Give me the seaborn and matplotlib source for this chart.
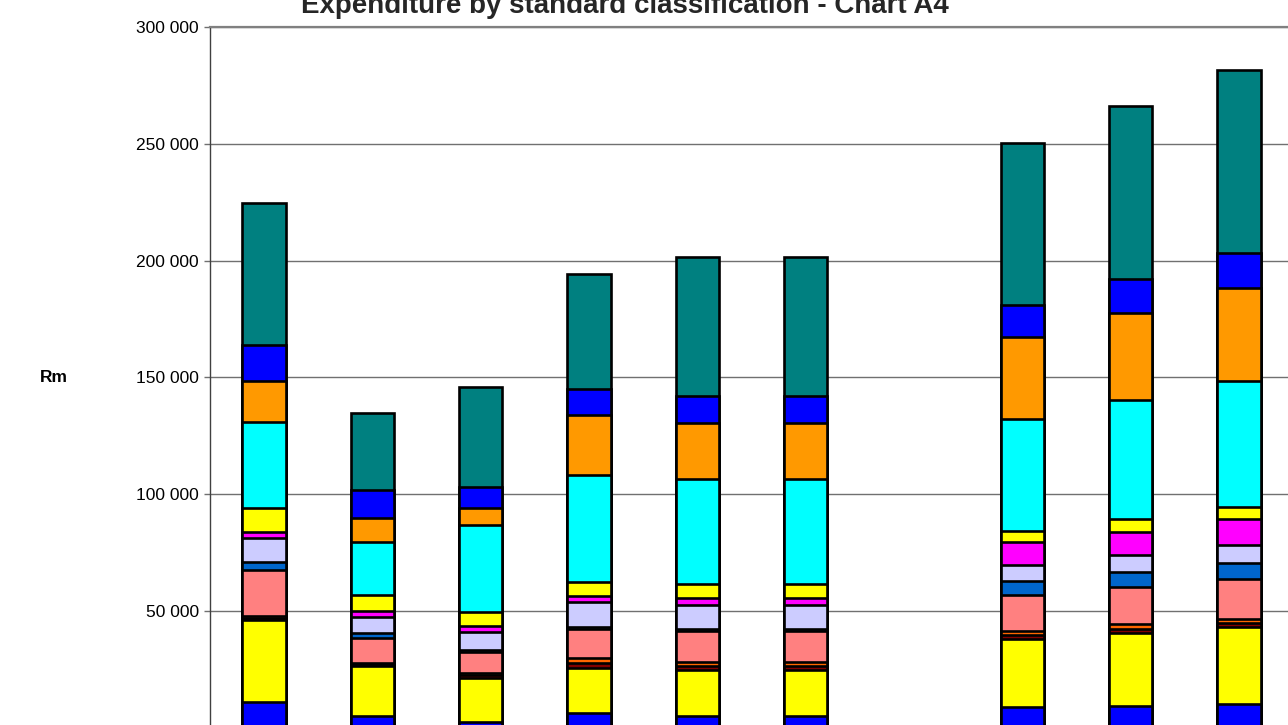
import numpy as np
import pandas as pd
import matplotlib
matplotlib.use("Agg")
import matplotlib.pyplot as plt
import seaborn as sns
from matplotlib.ticker import FuncFormatter, MultipleLocator

# Column slots along the x axis (the blank slot separates the two groups)
categories = ["C1", "C2", "C3", "C4", "C5", "C6", " ", "C7", "C8", "C9"]

# Standard classification items, bottom of the stack first (Rm)
item_01 = [10970, 4840, 2140, 6000, 4970, 4970, np.nan, 8830, 9260, 9860]
item_02 = [35020, 21560, 18860, 19410, 19590, 19590, np.nan, 29010, 31030, 33000]
item_03 = [1000, 700, 1400, 2000, 1800, 1800, np.nan, 1800, 2000, 1900]
item_04 = [710, 460, 1000, 2290, 1500, 1500, np.nan, 1500, 1850, 1780]
item_05 = [19840, 10710, 8870, 12300, 13280, 13280, np.nan, 15690, 16120, 17150]
item_06 = [3300, 2020, 800, 1110, 990, 990, np.nan, 6000, 6430, 6850]
item_07 = [10290, 6850, 7900, 10460, 10410, 10410, np.nan, 6600, 7150, 7460]
item_08 = [2440, 2830, 2570, 2700, 2870, 2870, np.nan, 9860, 9990, 11140]
item_09 = [10290, 6730, 5750, 6130, 6000, 6000, np.nan, 4710, 5310, 5150]
item_10 = [36990, 22590, 37410, 45860, 45130, 45130, np.nan, 48130, 51130, 54250]
item_11 = [17690, 10280, 7160, 25580, 23870, 23870, np.nan, 35270, 37420, 39600]
item_12 = [15300, 12130, 9250, 11020, 11710, 11710, np.nan, 13580, 14440, 15260]
item_13 = [60990, 33000, 42600, 49440, 59570, 59570, np.nan, 69560, 74130, 78290]

items = [item_01, item_02, item_03, item_04, item_05, item_06, item_07,
         item_08, item_09, item_10, item_11, item_12, item_13]
colors = ["#0000FF", "#FFFF00", "#800000", "#FF6600", "#FF8080", "#0066CC",
          "#CCCCFF", "#FF00FF", "#FFFF00", "#00FFFF", "#FF9900", "#0000FF",
          "#008080"]

sns.set_style("white")
plt.rcParams["font.family"] = ["Liberation Sans", "DejaVu Sans"]

fig = plt.figure(figsize=(12.88, 7.25), dpi=100)
ax = fig.add_axes([210 / 1288, -2.3 / 725, 1083.3 / 1288, 700.0 / 725])

# Stack by drawing cumulative totals, tallest first
cum = np.cumsum(np.array(items, dtype=float), axis=0)
for level in range(len(items) - 1, -1, -1):
    df = pd.DataFrame({"cat": categories, "val": cum[level]})
    sns.barplot(data=df, x="cat", y="val", order=categories,
                color=colors[level], saturation=1, width=0.4,
                edgecolor="black", linewidth=1.9, errorbar=None, ax=ax)

ax.set_xlim(-0.5, len(categories) - 0.5)
ax.set_ylim(0, 300000)
ax.yaxis.set_major_locator(MultipleLocator(50000))
ax.yaxis.set_major_formatter(FuncFormatter(
    lambda v, p: "" if v <= 0 else f"{int(v):,}".replace(",", " ")))
ax.grid(axis="y", color="#707070", linewidth=1.0)
ax.set_axisbelow(True)
ax.set_xlabel("")
ax.set_ylabel("")
ax.set_xticks([])
ax.tick_params(axis="y", direction="out", length=4, width=1, color="#707070",
               pad=4, labelsize=12.5, labelcolor="black", left=True)
for side in ["top", "right", "bottom"]:
    ax.spines[side].set_color("#808080")
    ax.spines[side].set_linewidth(1.6)
ax.spines["left"].set_color("#404040")
ax.spines["left"].set_linewidth(1.0)

fig.text(54 / 1288, 1 - 377 / 725, "Rm", ha="center", va="center",
         fontsize=12.5, fontweight="bold", color="black")
fig.text(625 / 1288, 1 - 13 / 725,
         "Expenditure by standard classification - Chart A4",
         ha="center", va="baseline", fontsize=20, fontweight="bold")

fig.savefig("out.png", dpi=100)
